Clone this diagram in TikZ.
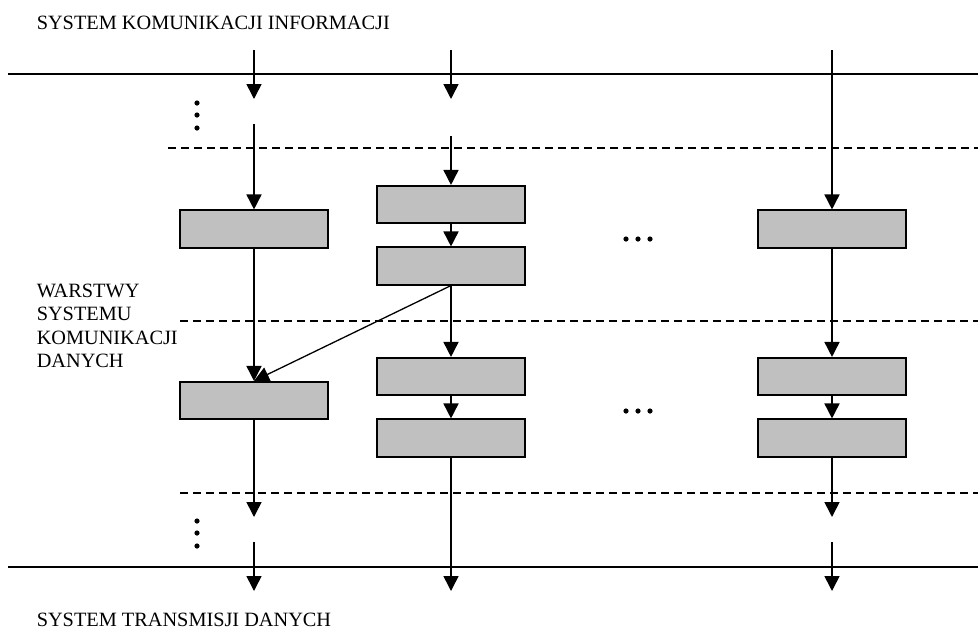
\documentclass[tikz,border=0pt]{standalone}
\usepackage{fontspec}
\setmainfont{Liberation Serif}
\usetikzlibrary{arrows.meta}
\begin{document}
\begin{tikzpicture}[x=1pt,y=-1pt,
  line width=1.6pt,
  layer/.style={draw, line width=1.6pt, fill=boxgray, minimum width=148pt, minimum height=37.5pt, inner sep=0pt},
  flow/.style={-{Triangle[width=15pt,length=15pt]}, line width=1.6pt},
  divider/.style={line width=1.2pt, dash pattern=on 8pt off 5pt},
  border/.style={line width=1.6pt},
  label/.style={font=\fontsize{20.3}{23.5}\selectfont, inner sep=0pt},
  dot/.style={fill=black, draw=none}]
\definecolor{boxgray}{RGB}{192,192,192}
\useasboundingbox (0,0) rectangle (978,630);

% captions
\node[label, anchor=base west] (top) at (36,29) {SYSTEM KOMUNIKACJI INFORMACJI};
\node[label, anchor=north west, align=left] (layers) at (36,283) {WARSTWY\\SYSTEMU\\KOMUNIKACJI\\DANYCH};
\node[label, anchor=base west] (bottom) at (36,626.5) {SYSTEM TRANSMISJI DANYCH};

% system boundaries and layer separators
\draw[border] (8,74) -- (978,74);
\draw[border] (8,567) -- (978,567);
\draw[divider] (168,148) -- (978,148);
\draw[divider] (180,321) -- (978,321);
\draw[divider] (180,493) -- (978,493);

% layer entities
\node[layer] (a1) at (254,229) {};
\node[layer] (a2) at (254,400.5) {};
\node[layer] (b1) at (451,204.5) {};
\node[layer] (b2) at (451,266) {};
\node[layer] (b3) at (451,376.5) {};
\node[layer] (b4) at (451,438) {};
\node[layer] (c1) at (832,229) {};
\node[layer] (c2) at (832,376.5) {};
\node[layer] (c3) at (832,438) {};

% free ends of the vertical flows
\coordinate (a0s) at (254,50);
\coordinate (a0e) at (254,99);
\coordinate (a1s) at (254,124);
\coordinate (b0s) at (451,50);
\coordinate (b0e) at (451,99);
\coordinate (b1s) at (451,136);
\coordinate (c0s) at (832,50);
\coordinate (a3e) at (254,517);
\coordinate (a4s) at (254,542);
\coordinate (a4e) at (254,591);
\coordinate (b5e) at (451,591);
\coordinate (c4e) at (832,517);
\coordinate (c5s) at (832,542);
\coordinate (c5e) at (832,591);

% flows
\draw[flow] (a0s) -- (a0e);
\draw[flow] (a1s) -- (a1.north);
\draw[flow] (a1.south) -- (a2.north);
\draw[flow] (a2.south) -- (a3e);
\draw[flow] (a4s) -- (a4e);

\draw[flow] (b0s) -- (b0e);
\draw[flow] (b1s) -- (b1.north);
\draw[flow] (b1.south) -- (b2.north);
\draw[flow] (b2.south) -- (b3.north);
\draw[flow] (b3.south) -- (b4.north);
\draw[flow] (b4.south) -- (b5e);

\draw[flow] (c0s) -- (c1.north);
\draw[flow] (c1.south) -- (c2.north);
\draw[flow] (c2.south) -- (c3.north);
\draw[flow] (c3.south) -- (c4e);
\draw[flow] (c5s) -- (c5e);

\draw[flow, line width=1.3pt] (b2.south) -- (a2.north);

% ellipses
\foreach \x in {626,638,650} {
  \fill[dot] (\x,239) circle (2.6pt);
  \fill[dot] (\x,411) circle (2.6pt);
}
\foreach \y in {103,115,128} \fill[dot] (197,\y) circle (2.6pt);
\foreach \y in {521,533,546} \fill[dot] (197,\y) circle (2.6pt);
\end{tikzpicture}
\end{document}
